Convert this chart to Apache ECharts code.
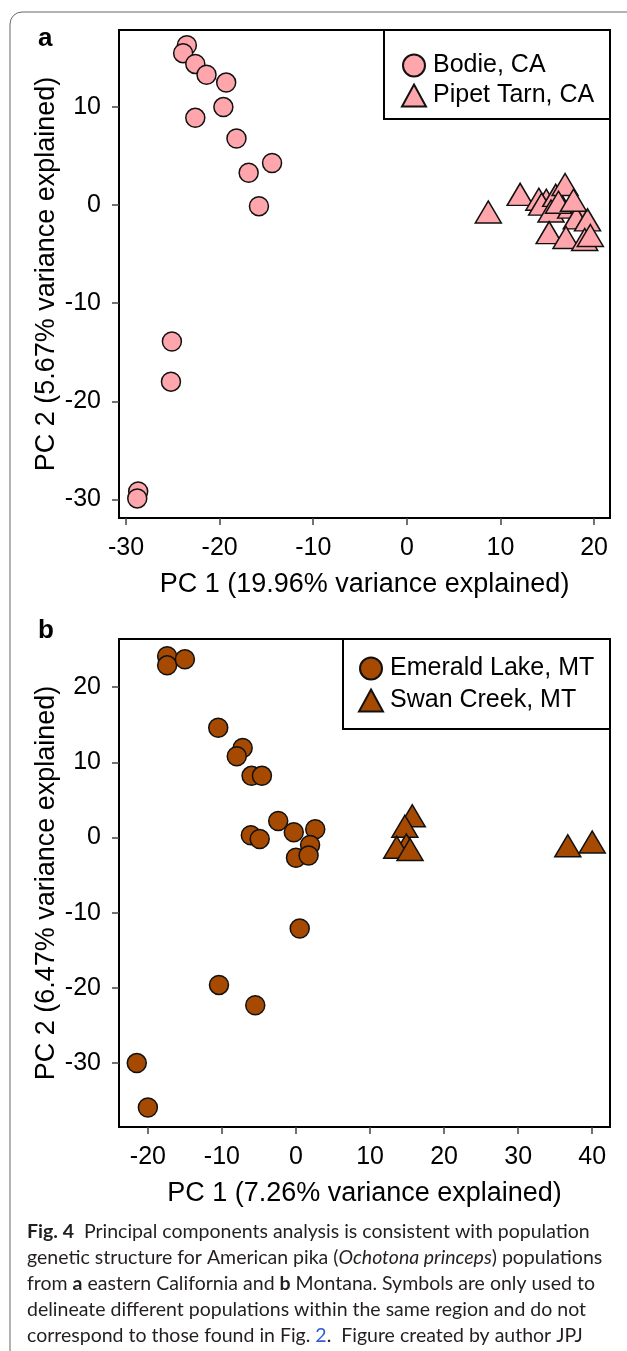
<!DOCTYPE html>
<html>
<head>
<meta charset="utf-8">
<script src="https://cdn.jsdelivr.net/npm/echarts@6/dist/echarts.min.js"></script>
<style>
  html, body { margin: 0; padding: 0; background: #fff; }
  #chart { width: 627px; height: 1351px; }
</style>
</head>
<body>
<div id="chart"></div>
<script>
// panel a: eastern California
var bodie = [
  [-23.5, 16.3], [-23.9, 15.5], [-22.6, 14.4], [-21.4, 13.3], [-19.3, 12.5],
  [-19.6, 10.0], [-22.6, 8.9], [-18.2, 6.8], [-14.4, 4.3], [-16.9, 3.3],
  [-15.8, -0.1], [-25.1, -13.9], [-25.2, -18.0], [-28.7, -29.2], [-28.8, -29.9]
];
var pipetTarn = [
  [8.7, -0.7], [12.1, 1.1], [14.1, 0.6], [14.9, 0.5], [14.4, 0.1], [15.9, 1.0],
  [16.9, 2.1], [15.4, -0.6], [17.5, -0.2], [18.5, -0.8], [18.1, -1.3], [19.3, -1.5],
  [15.2, -2.8], [17.0, -3.3], [19.0, -3.5], [19.6, -3.1], [16.2, 0.3], [17.8, 0.5]
];
// panel b: Montana
var emeraldLake = [
  [-17.4, 24.1], [-17.4, 22.9], [-15.0, 23.7], [-10.5, 14.6], [-7.2, 11.9],
  [-8.0, 10.8], [-6.0, 8.2], [-4.6, 8.2], [-2.4, 2.2], [-0.3, 0.7], [2.6, 1.1],
  [-6.1, 0.3], [-4.9, -0.2], [1.9, -1.0], [0.0, -2.7], [1.7, -2.4],
  [0.5, -12.1], [-10.4, -19.6], [-5.5, -22.3], [-21.5, -30.0], [-20.0, -35.9]
];
var swanCreek = [
  [15.7, 2.9], [14.7, 1.5], [14.9, -1.0], [13.6, -1.3], [15.4, -1.6],
  [36.7, -1.1], [40.0, -0.6]
];

var ticksAX = [-30, -20, -10, 0, 10, 20];
var ticksAY = [-30, -20, -10, 0, 10];
var ticksBX = [-20, -10, 0, 10, 20, 30, 40];
var ticksBY = [-30, -20, -10, 0, 10, 20];

var pink = '#FFA6AD';
var brown = '#A54A00';
var font = 'Liberation Sans';

function xAxis(grid, min, max, ticks, name) {
  return {
    gridIndex: grid, type: 'value', min: min, max: max,
    name: name, nameLocation: 'middle', nameGap: 53, nameMoveOverlap: false,
    nameTextStyle: { fontFamily: font, fontSize: 27, color: '#000' },
    axisLine: { show: false, onZero: false },
    splitLine: { show: false },
    axisTick: { show: true, length: 7, customValues: ticks, lineStyle: { color: '#444', width: 1.5 } },
    axisLabel: { customValues: ticks, margin: 18, fontFamily: font, fontSize: 25, color: '#000' }
  };
}
function yAxis(grid, min, max, ticks, name) {
  return {
    gridIndex: grid, type: 'value', min: min, max: max,
    name: name, nameLocation: 'middle', nameGap: 59, nameMoveOverlap: false,
    nameTextStyle: { fontFamily: font, fontSize: 27, color: '#000' },
    axisLine: { show: false, onZero: false },
    splitLine: { show: false },
    axisTick: { show: true, length: 7, customValues: ticks, lineStyle: { color: '#444', width: 1.5 } },
    axisLabel: { customValues: ticks, margin: 18, fontFamily: font, fontSize: 25, color: '#000' }
  };
}
function pts(name, data, grid, symbol, size, color) {
  return {
    name: name, type: 'scatter', data: data,
    xAxisIndex: grid, yAxisIndex: grid,
    symbol: symbol, symbolSize: size,
    itemStyle: { color: color, borderColor: '#111', borderWidth: 1.5, opacity: 1 },
    emphasis: { disabled: true },
    silent: true
  };
}

var chart = echarts.init(document.getElementById('chart'), null, { renderer: 'canvas' });

var option = {
  backgroundColor: '#fff',
  animation: false,
  grid: [
    { left: 119, top: 30, width: 491, height: 488, show: true, borderColor: '#000', borderWidth: 2, backgroundColor: 'transparent' },
    { left: 119, top: 639, width: 491, height: 488, show: true, borderColor: '#000', borderWidth: 2, backgroundColor: 'transparent' }
  ],
  xAxis: [
    xAxis(0, -30.75, 21.7, ticksAX, 'PC 1 (19.96% variance explained)'),
    xAxis(1, -23.9, 42.4, ticksBX, 'PC 1 (7.26% variance explained)')
  ],
  yAxis: [
    yAxis(0, -31.9, 17.86, ticksAY, 'PC 2 (5.67% variance explained)'),
    yAxis(1, -38.5, 26.4, ticksBY, 'PC 2 (6.47% variance explained)')
  ],
  legend: [
    {
      data: ['Bodie, CA', 'Pipet Tarn, CA'], orient: 'vertical',
      left: 396, top: 48, itemGap: 5, itemWidth: 24, itemHeight: 22,
      textStyle: { fontFamily: font, fontSize: 25, color: '#000', padding: [0, 0, 0, 2] },
      selectedMode: false
    },
    {
      data: ['Emerald Lake, MT', 'Swan Creek, MT'], orient: 'vertical',
      left: 353, top: 651, itemGap: 7, itemWidth: 24, itemHeight: 22,
      textStyle: { fontFamily: font, fontSize: 25, color: '#000', padding: [0, 0, 0, 2] },
      selectedMode: false
    }
  ],
  series: [
    pts('Bodie, CA', bodie, 0, 'circle', 19, pink),
    pts('Pipet Tarn, CA', pipetTarn, 0, 'triangle', [26, 22], pink),
    pts('Emerald Lake, MT', emeraldLake, 1, 'circle', 19, brown),
    pts('Swan Creek, MT', swanCreek, 1, 'triangle', [26, 22], brown)
  ],
  graphic: [
    { type: 'rect', shape: { x: 10, y: 12, width: 660, height: 1400, r: 12 }, style: { fill: 'none', stroke: '#666', lineWidth: 1 }, silent: true },
    { type: 'rect', shape: { x: 384, y: 30, width: 226, height: 89 }, style: { fill: 'none', stroke: '#000', lineWidth: 2 }, z: 10 },
    { type: 'rect', shape: { x: 343, y: 639, width: 267, height: 90 }, style: { fill: 'none', stroke: '#000', lineWidth: 2 }, z: 10 },
    { type: 'text', left: 38, top: 26, style: { text: 'a', font: 'bold 26px "Liberation Sans"', fill: '#000' } },
    { type: 'text', left: 38, top: 618, style: { text: 'b', font: 'bold 26px "Liberation Sans"', fill: '#000' } },
    {
      type: 'text', left: 27, top: 1219,
      style: {
        text: [
          '{b|Fig. 4}  Principal components analysis is consistent with population',
          'genetic structure for American pika ({i|Ochotona princeps}) populations',
          'from {b|a} eastern California and {b|b} Montana. Symbols are only used to',
          'delineate different populations within the same region and do not',
          'correspond to those found in Fig. {l|2}.  Figure created by author JPJ'
        ].join('\n'),
        font: '19.5px Lato', fill: '#231f20', lineHeight: 26,
        rich: {
          b: { fontFamily: 'Lato', fontWeight: 'bold', fontSize: 19.5, fill: '#231f20', lineHeight: 26 },
          i: { fontFamily: 'Lato', fontStyle: 'italic', fontSize: 19.5, fill: '#231f20', lineHeight: 26 },
          l: { fontFamily: 'Lato', fontSize: 19.5, fill: '#2f5fd0', lineHeight: 26 }
        }
      }
    }
  ]
};

chart.setOption(option);
</script>
</body>
</html>
